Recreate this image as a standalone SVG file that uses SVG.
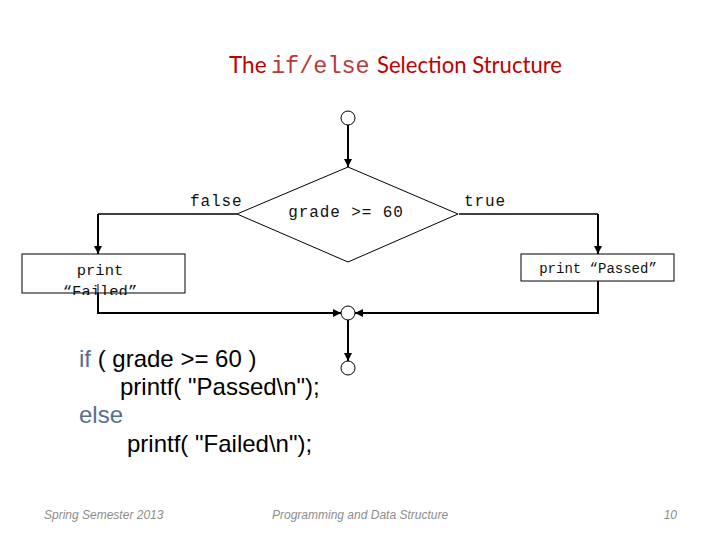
<svg xmlns="http://www.w3.org/2000/svg" width="720" height="540" viewBox="0 0 720 540">
<style>
.node{fill:#fff;stroke:#000;stroke-width:1}
.conn{fill:none;stroke:#000;stroke-width:2}
.thin{fill:none;stroke:#000;stroke-width:1.5}
.mono{font-family:"Liberation Mono","DejaVu Sans Mono",monospace;fill:#111}
.code{font-family:"Liberation Sans",Arial,sans-serif;font-size:24px;fill:#000}
.kw{fill:#55708F}
.foot{font-family:"Liberation Sans",Arial,sans-serif;font-size:12px;font-style:italic;fill:#8c8c8c}
</style>
<defs>
<marker id="arr" viewBox="0 0 8 8" refX="8" refY="4" markerWidth="8" markerHeight="8" markerUnits="userSpaceOnUse" orient="auto">
<path d="M0,0 L8,4 L0,8 z" fill="#000"/>
</marker>
<clipPath id="failClip"><rect x="20" y="250" width="170" height="45"/></clipPath>
</defs>
<rect width="720" height="540" fill="#fff"/>
<g id="title">
<text y="73" font-size="22.5" fill="#C00000" font-family="Lato,'Liberation Sans',sans-serif"><tspan x="229">The</tspan><tspan x="271" font-family="'Liberation Mono',monospace" font-size="23.5" fill="#b83a3a">if/else</tspan><tspan x="377" textLength="185" lengthAdjust="spacingAndGlyphs">Selection Structure</tspan></text>
</g>
<g id="connectors">
<line class="conn" x1="348" y1="125" x2="348" y2="167" marker-end="url(#arr)"/>
<polyline class="thin" points="237,214 98,214"/>
<line class="conn" x1="98" y1="214" x2="98" y2="254" marker-end="url(#arr)"/>
<polyline class="thin" points="459,214 598,214"/>
<line class="conn" x1="598" y1="214" x2="598" y2="254" marker-end="url(#arr)"/>
<polyline class="conn" points="98,284 98,313 341,313" marker-end="url(#arr)"/>
<polyline class="conn" points="598,281 598,313 355,313" marker-end="url(#arr)"/>
<line class="conn" x1="348" y1="320" x2="348" y2="361" marker-end="url(#arr)"/>
</g>
<g id="start">
<circle class="node" cx="348" cy="118" r="7"/>
</g>
<g id="decision">
<polygon class="node" points="348,167 458,214 348,262 237,214"/>
<text class="mono" x="346" y="217" font-size="16" letter-spacing="0.9" text-anchor="middle">grade &gt;= 60</text>
<text class="mono" x="190" y="206" font-size="16" letter-spacing="0.9">false</text>
<text class="mono" x="464" y="206" font-size="16" letter-spacing="0.9">true</text>
</g>
<g id="failed">
<rect class="node" x="22" y="254" width="163" height="39"/>
<g clip-path="url(#failClip)">
<text class="mono" x="100" y="275" font-size="15.5" text-anchor="middle">print</text>
<text class="mono" x="100" y="296" font-size="15.5" text-anchor="middle">“Failed”</text>
</g>
<line x1="98" y1="284" x2="98" y2="293" stroke="#000" stroke-width="1"/>
</g>
<g id="passed">
<rect class="node" x="521" y="254" width="153" height="27"/>
<text class="mono" x="598" y="273" font-size="14" text-anchor="middle">print “Passed”</text>
</g>
<g id="merge">
<circle class="node" cx="348" cy="313" r="7"/>
</g>
<g id="end">
<circle class="node" cx="348" cy="368" r="7"/>
</g>
<g id="code">
<text class="code" x="79" y="367"><tspan class="kw">if</tspan> ( grade &gt;= 60 )</text>
<text class="code" x="120" y="395">printf( "Passed\n");</text>
<text class="code kw" x="79" y="423">else</text>
<text class="code" x="127" y="452">printf( "Failed\n");</text>
</g>
<g id="footer">
<text class="foot" x="44" y="519">Spring Semester 2013</text>
<text class="foot" x="272" y="519">Programming and Data Structure</text>
<text class="foot" x="677" y="519" text-anchor="end">10</text>
</g>
</svg>
